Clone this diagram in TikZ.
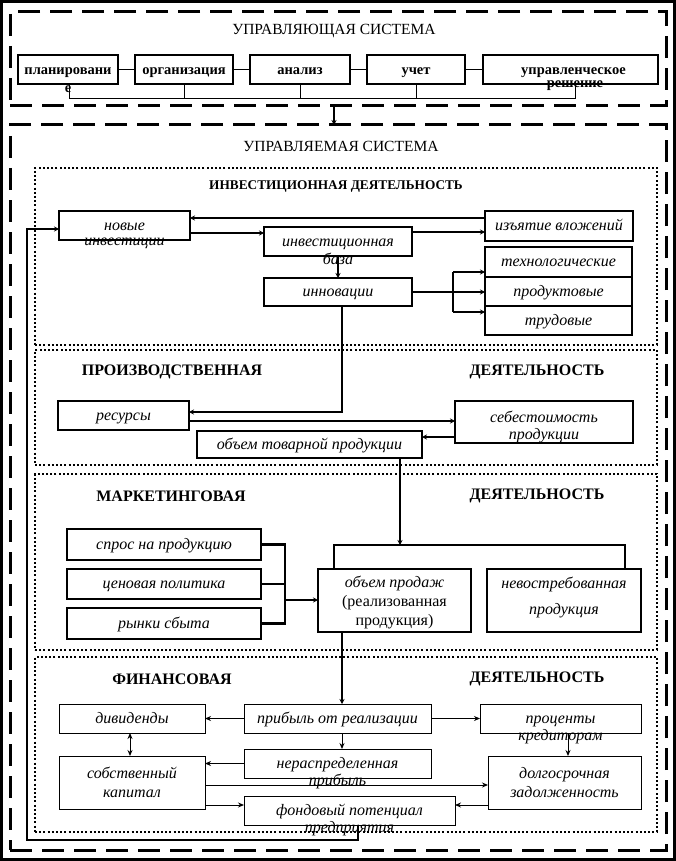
\documentclass[tikz,border=0pt]{standalone}
\usepackage{fontspec}
\setmainfont{Liberation Serif}
\usetikzlibrary{arrows.meta}
\begin{document}
\begin{tikzpicture}[x=1pt,y=-1pt,
  frame/.style={draw, line width=3pt, dash pattern=on 22pt off 10pt, inner sep=0pt, outer sep=0pt},
  sect/.style={draw, line width=2.5pt, dash pattern=on 2pt off 2.2pt, inner sep=0pt, outer sep=0pt},
  topbox/.style={draw, line width=2.5pt, inner sep=0pt, outer sep=0pt, text height=12pt, text depth=1pt, font=\fontsize{14.5}{16}\selectfont\bfseries},
  tbox/.style={draw, line width=2.5pt, inner sep=0pt, outer sep=0pt, align=center, font=\fontsize{16}{19}\selectfont\itshape},
  fbox/.style={draw, line width=0.9pt, inner sep=0pt, outer sep=0pt, align=center, font=\fontsize{16}{19}\selectfont\itshape},
  one/.style={text height=11pt, text depth=2pt},
  over/.style={inner sep=0pt, font=\fontsize{16}{18}\selectfont\itshape},
  overb/.style={inner sep=0pt, font=\fontsize{14.5}{16}\selectfont\bfseries},
  ttl/.style={inner sep=0pt, font=\fontsize{15.5}{17}\selectfont},
  hd/.style={inner sep=0pt, font=\fontsize{16}{18}\selectfont\bfseries},
  hdi/.style={inner sep=0pt, font=\fontsize{13.3}{15}\selectfont\bfseries},
  thick arr/.style={line width=2.5pt, -{Stealth[length=5pt,width=5pt]}},
  thickln/.style={line width=2.5pt},
  thin arr/.style={line width=0.9pt, -{Stealth[length=6pt,width=5pt]}},
  thinln/.style={line width=0.9pt}
]
\useasboundingbox (0,0) rectangle (676,861);
\draw[line width=3pt] (1.5,1.5) rectangle (674.5,859.5);

% frames
\node[frame, minimum width=656pt, minimum height=94pt] (ctrl) at (338,59) {};
\node[frame, minimum width=656pt, minimum height=725pt] (mgd) at (338,487.5) {};
\node[sect, minimum width=622pt, minimum height=177pt] (inv) at (346,256.5) {};
\node[sect, minimum width=622pt, minimum height=115pt] (prd) at (346,407.5) {};
\node[sect, minimum width=622pt, minimum height=176pt] (mrk) at (346,562) {};
\node[sect, minimum width=622pt, minimum height=175pt] (fin) at (346,744.5) {};

% titles
\node[ttl] (t1) at (334,31) {УПРАВЛЯЮЩАЯ СИСТЕМА};
\node[ttl] (t2) at (341,146) {УПРАВЛЯЕМАЯ СИСТЕМА};
\node[hdi] (t3) at (336,187) {ИНВЕСТИЦИОННАЯ ДЕЯТЕЛЬНОСТЬ};
\node[hd] (t4) at (172,372) {ПРОИЗВОДСТВЕННАЯ};
\node[hd] (t5) at (537,372) {ДЕЯТЕЛЬНОСТЬ};
\node[hd] (t6) at (171,496) {МАРКЕТИНГОВАЯ};
\node[hd] (t7) at (537,496) {ДЕЯТЕЛЬНОСТЬ};
\node[hd] (t8) at (172,679) {ФИНАНСОВАЯ};
\node[hd] (t9) at (537,679) {ДЕЯТЕЛЬНОСТЬ};

% top boxes
\node[topbox, minimum width=100pt, minimum height=29pt] (plan) at (68,69.5) {планировани};
\node[overb] (plane) at (68,89) {е};
\node[topbox, minimum width=98pt, minimum height=29pt] (org) at (184,69.5) {организация};
\node[topbox, minimum width=100pt, minimum height=29pt] (anal) at (300,69.5) {анализ};
\node[topbox, minimum width=98pt, minimum height=29pt] (uch) at (416,69.5) {учет};
\node[topbox, minimum width=175pt, minimum height=29pt] (upr) at (570.5,69.5) {\hspace*{6pt}управленческое};
\node[overb] (upre) at (575,86) {решение};

\draw[thinln] (plan) -- (org);
\draw[thinln] (org) -- (anal);
\draw[thinln] (anal) -- (uch);
\draw[thinln] (uch) -- (upr);
\draw[thinln] (plan.south -| 69,0) -- (69,98) -- (575,98) -- (upr.south -| 575,0);
\draw[thinln] (org.south) -- (184,98);
\draw[thinln] (anal.south) -- (300,98);
\draw[thinln] (uch.south) -- (416,98);
\draw[thick arr] (ctrl.south -| 334,0) -- (mgd.north -| 334,0);

% investment
\node[tbox, one, minimum width=131pt, minimum height=29pt] (novye) at (124.5,225.5) {новые};
\node[over] (novye2) at (124.5,243) {инвестиции};
\node[tbox, one, minimum width=148pt, minimum height=29pt] (baza) at (338,241.5) {инвестиционная};
\node[over] (baza2) at (338,259) {база};
\node[tbox, one, minimum width=148pt, minimum height=30pt] (izy) at (559,226) {изъятие вложений};
\node[tbox, one, minimum width=147pt, minimum height=30pt] (tech) at (558.5,262) {технологические};
\node[tbox, one, minimum width=147pt, minimum height=29pt] (prodk) at (558.5,291.5) {продуктовые};
\node[tbox, one, minimum width=147pt, minimum height=29pt] (trud) at (558.5,320.5) {трудовые};
\node[tbox, one, minimum width=148pt, minimum height=28pt] (inn) at (338,292) {инновации};

\draw[thick arr] (izy.west |- 0,218) -- (novye.east |- 0,218);
\draw[thick arr] (novye.east |- 0,233) -- (baza.west |- 0,233);
\draw[thick arr] (baza.east |- 0,232) -- (izy.west |- 0,232);
\draw[thick arr] (baza.south) -- (inn.north);
\coordinate (br) at (453,292);
\draw[thickln] (inn.east) -- (br);
\draw[thickln] (453,272) -- (453,312);
\draw[thick arr] (453,272) -- (tech.west |- 0,272);
\draw[thick arr] (br) -- (prodk.west |- br);
\draw[thick arr] (453,312) -- (trud.west |- 0,312);

% production
\node[tbox, one, minimum width=131pt, minimum height=29pt] (res) at (123.5,415.5) {ресурсы};
\node[tbox, minimum width=178pt, minimum height=42pt, font=\fontsize{16}{17}\selectfont\itshape] (seb) at (544,422) {\rule{0pt}{21pt}себестоимость\\продукции};
\node[tbox, one, minimum width=225pt, minimum height=27pt] (obt) at (309.5,444.5) {объем товарной продукции};

\draw[thick arr] (inn.south -| 342,0) -- (342,412) -- (res.east |- 0,412);
\draw[thick arr] (res.east |- 0,421) -- (seb.west |- 0,421);
\draw[thick arr] (seb.west |- 0,437) -- (obt.east |- 0,437);

% marketing
\node[tbox, one, minimum width=194pt, minimum height=31pt] (spr) at (164,544.5) {спрос на продукцию};
\node[tbox, one, minimum width=194pt, minimum height=30pt] (cen) at (164,584) {ценовая политика};
\node[tbox, one, minimum width=194pt, minimum height=31pt] (ryn) at (164,623.5) {рынки сбыта};
\node[tbox, minimum width=153pt, minimum height=63pt] (obp) at (394.5,600.5) {\rule{0pt}{16pt}объем продаж\\{\upshape(реализованная}\\{\upshape продукция)}};
\node[tbox, minimum width=154pt, minimum height=63pt, font=\fontsize{16}{26}\selectfont\itshape] (nev) at (564,600.5) {невостребованная\\продукция\rule[-9.5pt]{0pt}{0pt}};

\coordinate (brk) at (400,545);
\draw[thickln] (obp.north -| 334,0) -- (334,545) -- (625,545) -- (nev.north -| 625,0);
\draw[thick arr] (obt.south -| 400,0) -- (brk);
\draw[thickln] (spr.east) -- (285,544.5) -- (285,623.5) -- (ryn.east);
\draw[thickln] (cen.east) -- (285,584);
\draw[thick arr] (285,600) -- (obp.west |- 0,600);

% finance
\node[fbox, one, minimum width=146pt, minimum height=29pt] (div) at (132,718.5) {дивиденды};
\node[fbox, one, minimum width=187pt, minimum height=29pt] (pri) at (337.5,718.5) {прибыль от реализации};
\node[fbox, one, minimum width=161pt, minimum height=29pt] (proc) at (560.5,718.5) {проценты};
\node[over] (proc2) at (560.5,737) {кредиторам};
\node[fbox, minimum width=146pt, minimum height=53pt] (sob) at (132,782.5) {собственный\\капитал};
\node[fbox, one, minimum width=187pt, minimum height=29pt] (ner) at (337.5,763.5) {нераспределенная};
\node[over] (ner2) at (337.5,781) {прибыль};
\node[fbox, minimum width=153pt, minimum height=53pt] (dol) at (564.5,782.5) {долгосрочная\\задолженность};
\node[fbox, one, minimum width=211pt, minimum height=29pt] (fond) at (349.5,810.5) {фондовый потенциал};
\node[over] (fond2) at (349.5,829) {предприятия};

\draw[thick arr] (obp.south -| 342,0) -- (pri.north -| 342,0);
\draw[thin arr] (pri) -- (div);
\draw[thin arr] (pri) -- (proc);
\draw[thin arr] (pri.south -| 342,0) -- (ner.north -| 342,0);
\draw[thinln, {Stealth[length=6pt,width=5pt]}-{Stealth[length=6pt,width=5pt]}] (div.south -| 130,0) -- (sob.north -| 130,0);
\draw[thin arr] (proc.south -| 568,0) -- (dol.north -| 568,0);
\draw[thin arr] (ner.west) -- (sob.east |- ner.west);
\draw[thin arr] (sob.east |- 0,785) -- (dol.west |- 0,785);
\draw[thin arr] (sob.east |- 0,805) -- (fond.west |- 0,805);
\draw[thin arr] (dol.west |- 0,805) -- (fond.east |- 0,805);

% feedback
\draw[thick arr] (fond.south -| 358,0) -- (358,840) -- (27,840) -- (27,229) -- (novye.west |- 0,229);
\end{tikzpicture}
\end{document}
